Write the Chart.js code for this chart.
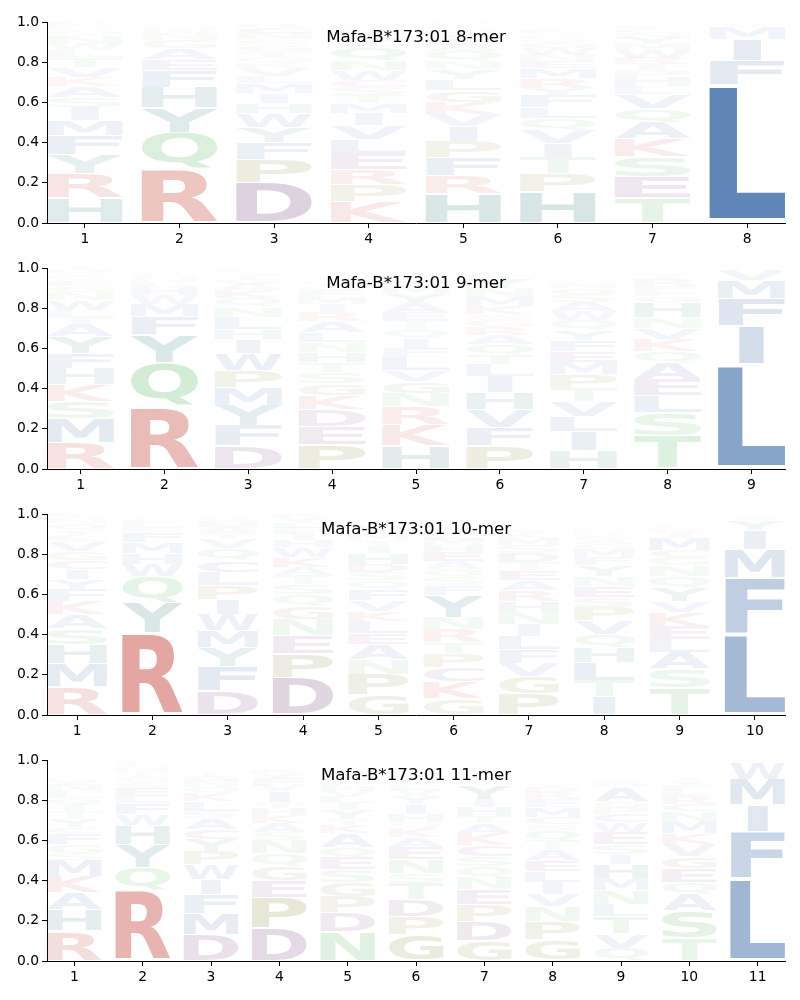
<!DOCTYPE html>
<html><head><meta charset="utf-8">
<script src="https://cdn.jsdelivr.net/npm/chart.js@4"></script>
<style>html,body{margin:0;padding:0;background:#fff}canvas{position:absolute;left:0}</style>
</head><body>
<div id="root"></div>
<script>
const titles = ["Mafa-B*173:01 8-mer","Mafa-B*173:01 9-mer","Mafa-B*173:01 10-mer","Mafa-B*173:01 11-mer"];
const yTicks = [0,0.2,0.4,0.6,0.8,1.0];

const letters8 = ["HRYFMISAKVTLWNQGDEPC","RQYHFEAGNWMSTKPL","DPFYWHIMLVKQTGSNCR","KPRELVIMTSCWNQYADGFH","HRFPIVKGLYNQADEMSTW","HPTIVQLFYRMENWGSAK","TESKAQVLHPIRWMYNGF","LFIMVY"];
const heights8 = [
[.125,.12,.095,.095,.075,.065,.05,.055,.045,.05,.05,.035,.03,.04,.02,.015,.015,.01,.01,.005],
[.27,.18,.125,.1,.085,.055,.055,.04,.03,.02,.015,.01,.005,.005,.003,.002],
[.2,.115,.085,.075,.07,.05,.05,.05,.035,.04,.025,.03,.03,.03,.03,.03,.03,.02],
[.105,.085,.075,.08,.07,.07,.06,.05,.04,.04,.035,.05,.05,.07,.03,.025,.02,.015,.01,.01],
[.145,.09,.09,.08,.075,.06,.06,.06,.055,.05,.04,.05,.03,.025,.025,.02,.02,.015,.01],
[.155,.09,.08,.07,.065,.06,.055,.06,.035,.05,.05,.035,.03,.035,.03,.025,.02,.015],
[.125,.105,.1,.09,.08,.07,.07,.04,.045,.035,.03,.03,.04,.03,.03,.025,.02,.015],
[.69,.12,.105,.06,.02,.005]];

const letters9 = ["RMSKHFYATLWNGEQVDI","RQYFMWHLNESTGK","DFYMPWIHLNQKAGTSEV","PEDKGSTHNLARIMFQV","HKRNGVLFIQTEAYMDS","PFVHILTQARGSKMNY","HILVTPMEFYQWASGN","TSLEAQKVNHGFPRIY","LIFMVY"];
const heights9 = [
[.13,.12,.085,.085,.08,.075,.085,.06,.035,.035,.05,.04,.03,.025,.025,.015,.015,.01],
[.315,.215,.14,.09,.06,.045,.04,.025,.025,.015,.01,.01,.005,.005],
[.115,.1,.1,.09,.085,.085,.07,.05,.06,.05,.045,.04,.03,.025,.02,.015,.01,.01],
[.12,.09,.085,.07,.06,.055,.05,.05,.05,.05,.055,.045,.04,.035,.03,.025,.02],
[.115,.105,.09,.065,.06,.055,.065,.045,.05,.045,.045,.04,.045,.05,.035,.025,.02],
[.115,.09,.09,.085,.08,.06,.05,.05,.045,.04,.035,.03,.04,.045,.045,.05,.025],
[.09,.095,.075,.075,.065,.07,.06,.055,.055,.05,.05,.045,.045,.04,.03,.025],
[.165,.115,.085,.08,.08,.06,.06,.055,.055,.075,.03,.025,.025,.03,.02,.015],
[.52,.19,.14,.09,.055,.005]];

const letters10 = ["RMHSAKFYICGVLTQNWE","RYQWHMFELCSTN","DFYMWIPLCQVTAHSG","DPENGQSTAKWHIFLYR","GPNAELKVFQSDHITMYR","GKCPTRNYFSQAEHMLDI","PGVFLINHRAETDSMKY","ITLHQVPSENYFMGAKRD","TSALEKVYQNGCMIRF","LFMIYV"];
const heights10 = [
[.14,.115,.095,.08,.07,.065,.06,.05,.05,.045,.045,.05,.025,.03,.035,.02,.015,.01],
[.41,.15,.13,.06,.055,.055,.05,.02,.03,.015,.01,.01,.005],
[.12,.12,.095,.085,.08,.075,.07,.065,.06,.06,.045,.03,.03,.025,.02,.015,.005],
[.185,.12,.09,.08,.065,.06,.05,.045,.04,.05,.05,.035,.03,.03,.025,.025,.02],
[.1,.1,.075,.075,.055,.06,.05,.055,.055,.045,.04,.04,.055,.035,.03,.03,.03,.02],
[.08,.085,.07,.07,.055,.065,.06,.11,.05,.04,.04,.04,.045,.035,.03,.025,.02,.015],
[.105,.085,.065,.07,.065,.06,.06,.055,.055,.05,.05,.04,.045,.04,.035,.025,.015],
[.09,.08,.09,.075,.065,.07,.065,.05,.055,.05,.055,.04,.04,.025,.025,.02,.015,.01],
[.135,.095,.08,.065,.065,.07,.055,.065,.06,.055,.04,.035,.06,.025,.02,.01],
[.4,.28,.145,.095,.05,.015]];

const letters11 = ["RHAKMSGFCYTIQLNV","RQYHWFLESGTMNAPK","DMFIWPYCASLKQNGT","DPEGQNSAKHTIVFYR","NDPGSEQAKTYILVHF","GPDTSNEAKQHIYVLFMR","GDPENQSCKATHIYLMR","GPNVILEATQSCMFRDY","QVTLNMHISEWCPGADKY","TSAQEGVKMNCRLFYI","LFIMWV"];
const heights11 = [
[.15,.105,.085,.08,.08,.035,.045,.055,.03,.04,.04,.03,.035,.035,.03,.025],
[.35,.115,.115,.095,.055,.055,.035,.04,.03,.025,.025,.02,.015,.015,.015,.005],
[.13,.105,.095,.075,.075,.065,.06,.05,.055,.035,.05,.04,.03,.03,.025,.02],
[.165,.15,.085,.07,.065,.065,.04,.045,.04,.035,.03,.055,.03,.03,.025,.02],
[.145,.095,.08,.07,.065,.06,.05,.07,.04,.03,.045,.035,.03,.03,.025,.03],
[.13,.09,.085,.08,.05,.07,.06,.05,.045,.03,.04,.05,.04,.03,.025,.02,.015,.01],
[.1,.095,.085,.075,.06,.055,.05,.055,.06,.05,.035,.045,.04,.07,.025,.02,.01],
[.105,.09,.075,.06,.06,.055,.055,.055,.045,.05,.03,.035,.05,.04,.035,.025,.015,.01],
[.065,.07,.085,.06,.07,.06,.07,.05,.05,.06,.05,.04,.035,.03,.07,.02,.01,.005],
[.115,.135,.08,.06,.07,.06,.06,.055,.06,.05,.035,.04,.03,.025,.02,.015],
[.41,.235,.13,.13,.08,.015]];

const panelLetters = [letters8,letters9,letters10,letters11];
const panelHeights = [heights8,heights9,heights10,heights11];
const canvasTops = [0,246,492,738];
const plotTop = 22;
const plotHeight = 201;
const axisHeight = 23;

const BLUE=[25,80,151],TEAL=[0,92,90],GREEN=[49,167,61],PURPLE=[90,25,100],OLIVE=[100,100,0],RED=[187,40,25];
const letterColor = {A:BLUE,F:BLUE,I:BLUE,L:BLUE,M:BLUE,V:BLUE,W:BLUE,H:TEAL,Y:TEAL,N:GREEN,Q:GREEN,S:GREEN,T:GREEN,D:PURPLE,E:PURPLE,C:PURPLE,G:OLIVE,P:OLIVE,K:RED,R:RED};

const FONT_FAMILY = '"DejaVu Sans"';
const logoPlugin = {
  id:'logo',
  afterDatasetsDraw(chart,args,opts){
    const ctx=chart.ctx, a=chart.chartArea;
    ctx.save();
    ctx.beginPath();ctx.rect(a.left,a.top-1,a.right-a.left,a.bottom-a.top+1);ctx.clip();
    ctx.font='bold 200px '+FONT_FAMILY;
    ctx.textAlign='left';ctx.textBaseline='alphabetic';
    const mE=ctx.measureText('E');
    const inkE=mE.actualBoundingBoxLeft+mE.actualBoundingBoxRight;
    chart.data.datasets.forEach((ds,k)=>{
      chart.getDatasetMeta(k).data.forEach((bar,i)=>{
        const ch=opts.letters[i][k];
        const v=ds.data[i].y;
        if(!ch||!v) return;
        const p=bar.getProps(['x','y','base','width'],true);
        const top=Math.min(p.y,p.base), bot=Math.max(p.y,p.base);
        const pad=(bot-top)*0.03;
        const w=p.width,h=bot-top-2*pad;
        const m=ctx.measureText(ch);
        const iw=m.actualBoundingBoxLeft+m.actualBoundingBoxRight;
        const ih=m.actualBoundingBoxAscent+m.actualBoundingBoxDescent;
        const sx=Math.min(w/iw,w/inkE);
        const c=letterColor[ch];
        ctx.save();
        ctx.translate(p.x-sx*iw/2,bot-pad);
        ctx.scale(sx,h/ih);
        ctx.fillStyle=`rgba(${c[0]},${c[1]},${c[2]},${v})`;
        ctx.fillText(ch,m.actualBoundingBoxLeft,-m.actualBoundingBoxDescent);
        ctx.restore();
      });
    });
    ctx.restore();
    // panel caption inside the axes
    ctx.save();
    ctx.font='16.67px '+FONT_FAMILY;
    ctx.fillStyle='#000';ctx.textAlign='center';ctx.textBaseline='middle';
    ctx.fillText(opts.title,(a.left+a.right)/2,chart.scales.y.getPixelForValue(0.922));
    ctx.restore();
  }
};

const root=document.getElementById('root');
titles.forEach((title,pi)=>{
  const L=panelLetters[pi],H=panelHeights[pi];
  const n=L.length;
  const positions=L.map((_,i)=>i+1);
  const layers=Math.max(...H.map(h=>h.length));
  const datasets=[];
  for(let k=0;k<layers;k++){
    datasets.push({
      data:positions.map((x,i)=>({x,y:H[i][k]||0})),
      backgroundColor:'rgba(0,0,0,0)',borderWidth:0,stack:'s',
      barPercentage:1,categoryPercentage:0.8
    });
  }
  const cv=document.createElement('canvas');
  const cH=plotTop+plotHeight+axisHeight;
  cv.width=800;cv.height=cH;cv.style.top=canvasTops[pi]+'px';cv.style.width='800px';cv.style.height=cH+'px';
  root.appendChild(cv);
  new Chart(cv,{
    type:'bar',
    data:{datasets},
    plugins:[logoPlugin],
    options:{
      responsive:false,animation:false,devicePixelRatio:1,
      layout:{padding:{left:0,right:15,top:plotTop,bottom:0}},
      plugins:{legend:{display:false},title:{display:false},tooltip:{enabled:false},logo:{letters:L,title}},
      scales:{
        x:{type:'linear',stacked:true,offset:false,min:0.6,max:n+0.4,
          afterBuildTicks(s){s.ticks=positions.map(value=>({value}));},
          afterFit(s){s.height=axisHeight;s.paddingLeft=0;s.paddingRight=0;},
          ticks:{autoSkip:false,maxRotation:0,padding:3,color:'#000',font:{family:FONT_FAMILY,size:13.89},callback:v=>String(v)},
          grid:{display:true,offset:false,drawOnChartArea:false,drawTicks:true,tickLength:5,color:'#000',lineWidth:1},
          border:{display:true,color:'#000',width:1}},
        y:{type:'linear',stacked:true,min:0,max:1,
          afterBuildTicks(s){s.ticks=yTicks.map(value=>({value}));},
          afterFit(s){s.width=47;},
          ticks:{padding:3,color:'#000',font:{family:FONT_FAMILY,size:13.89},callback:v=>Number(v).toFixed(1)},
          grid:{display:true,drawOnChartArea:false,drawTicks:true,tickLength:5,color:'#000',lineWidth:1},
          border:{display:true,color:'#000',width:1}}
      }
    }
  });
});
</script>
</body></html>
